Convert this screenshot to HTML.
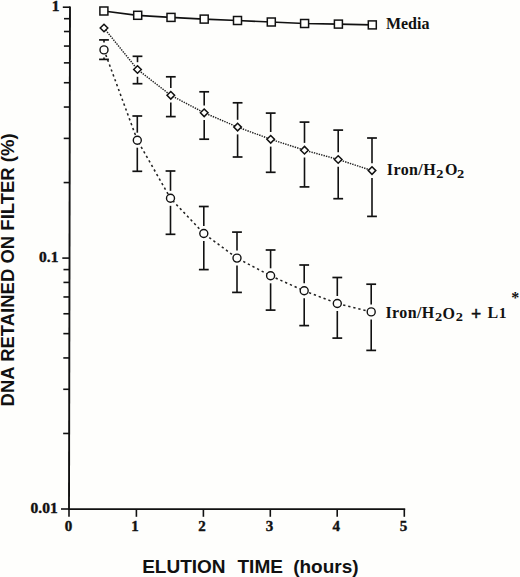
<!DOCTYPE html>
<html><head><meta charset="utf-8"><style>
html,body{margin:0;padding:0;background:#fefefc;}
body{width:520px;height:577px;overflow:hidden;}
svg{display:block;}
</style></head><body>
<svg width="520" height="577" viewBox="0 0 520 577">
<rect width="520" height="577" fill="#fefefc"/>
<line x1="70" y1="6.4" x2="69" y2="509.9" stroke="#111" stroke-width="1.9"/>
<line x1="68.2" y1="509.1" x2="405.2" y2="509.1" stroke="#111" stroke-width="1.8"/>
<line x1="62.80" y1="7.20" x2="70.00" y2="7.20" stroke="#111" stroke-width="1.6"/>
<line x1="63.65" y1="182.57" x2="69.65" y2="182.57" stroke="#111" stroke-width="1.6"/>
<line x1="63.74" y1="138.39" x2="69.74" y2="138.39" stroke="#111" stroke-width="1.6"/>
<line x1="63.80" y1="107.04" x2="69.80" y2="107.04" stroke="#111" stroke-width="1.6"/>
<line x1="63.85" y1="82.73" x2="69.85" y2="82.73" stroke="#111" stroke-width="1.6"/>
<line x1="63.89" y1="62.86" x2="69.89" y2="62.86" stroke="#111" stroke-width="1.6"/>
<line x1="63.92" y1="46.06" x2="69.92" y2="46.06" stroke="#111" stroke-width="1.6"/>
<line x1="63.95" y1="31.51" x2="69.95" y2="31.51" stroke="#111" stroke-width="1.6"/>
<line x1="63.98" y1="18.68" x2="69.98" y2="18.68" stroke="#111" stroke-width="1.6"/>
<line x1="62.30" y1="258.10" x2="69.50" y2="258.10" stroke="#111" stroke-width="1.6"/>
<line x1="63.15" y1="433.47" x2="69.15" y2="433.47" stroke="#111" stroke-width="1.6"/>
<line x1="63.24" y1="389.29" x2="69.24" y2="389.29" stroke="#111" stroke-width="1.6"/>
<line x1="63.30" y1="357.94" x2="69.30" y2="357.94" stroke="#111" stroke-width="1.6"/>
<line x1="63.35" y1="333.63" x2="69.35" y2="333.63" stroke="#111" stroke-width="1.6"/>
<line x1="63.39" y1="313.76" x2="69.39" y2="313.76" stroke="#111" stroke-width="1.6"/>
<line x1="63.42" y1="296.96" x2="69.42" y2="296.96" stroke="#111" stroke-width="1.6"/>
<line x1="63.45" y1="282.41" x2="69.45" y2="282.41" stroke="#111" stroke-width="1.6"/>
<line x1="63.48" y1="269.58" x2="69.48" y2="269.58" stroke="#111" stroke-width="1.6"/>
<line x1="61.00" y1="509.00" x2="69.00" y2="509.00" stroke="#111" stroke-width="1.6"/>
<line x1="69" y1="509" x2="69" y2="516.8" stroke="#111" stroke-width="1.6"/>
<line x1="136.4" y1="509" x2="136.4" y2="516.8" stroke="#111" stroke-width="1.6"/>
<line x1="203.4" y1="509" x2="203.4" y2="516.8" stroke="#111" stroke-width="1.6"/>
<line x1="270.3" y1="509" x2="270.3" y2="516.8" stroke="#111" stroke-width="1.6"/>
<line x1="337.2" y1="509" x2="337.2" y2="516.8" stroke="#111" stroke-width="1.6"/>
<line x1="404.3" y1="509" x2="404.3" y2="516.8" stroke="#111" stroke-width="1.6"/>
<line x1="137.5" y1="56.3" x2="137.5" y2="62.2" stroke="#111" stroke-width="1.6"/><line x1="137.5" y1="76.8" x2="137.5" y2="83.7" stroke="#111" stroke-width="1.6"/><line x1="132.6" y1="56.3" x2="142.4" y2="56.3" stroke="#111" stroke-width="1.7"/><line x1="132.6" y1="83.7" x2="142.4" y2="83.7" stroke="#111" stroke-width="1.7"/>
<line x1="170.8" y1="76.8" x2="170.8" y2="88.0" stroke="#111" stroke-width="1.6"/><line x1="170.8" y1="102.6" x2="170.8" y2="116.6" stroke="#111" stroke-width="1.6"/><line x1="165.9" y1="76.8" x2="175.7" y2="76.8" stroke="#111" stroke-width="1.7"/><line x1="165.9" y1="116.6" x2="175.7" y2="116.6" stroke="#111" stroke-width="1.7"/>
<line x1="204.2" y1="91.8" x2="204.2" y2="105.5" stroke="#111" stroke-width="1.6"/><line x1="204.2" y1="120.1" x2="204.2" y2="139.2" stroke="#111" stroke-width="1.6"/><line x1="199.3" y1="91.8" x2="209.1" y2="91.8" stroke="#111" stroke-width="1.7"/><line x1="199.3" y1="139.2" x2="209.1" y2="139.2" stroke="#111" stroke-width="1.7"/>
<line x1="237.6" y1="102.8" x2="237.6" y2="119.8" stroke="#111" stroke-width="1.6"/><line x1="237.6" y1="134.4" x2="237.6" y2="157.0" stroke="#111" stroke-width="1.6"/><line x1="232.7" y1="102.8" x2="242.5" y2="102.8" stroke="#111" stroke-width="1.7"/><line x1="232.7" y1="157.0" x2="242.5" y2="157.0" stroke="#111" stroke-width="1.7"/>
<line x1="270.7" y1="113.1" x2="270.7" y2="132.0" stroke="#111" stroke-width="1.6"/><line x1="270.7" y1="146.6" x2="270.7" y2="172.3" stroke="#111" stroke-width="1.6"/><line x1="265.8" y1="113.1" x2="275.6" y2="113.1" stroke="#111" stroke-width="1.7"/><line x1="265.8" y1="172.3" x2="275.6" y2="172.3" stroke="#111" stroke-width="1.7"/>
<line x1="304.5" y1="122.1" x2="304.5" y2="142.9" stroke="#111" stroke-width="1.6"/><line x1="304.5" y1="157.5" x2="304.5" y2="186.9" stroke="#111" stroke-width="1.6"/><line x1="299.6" y1="122.1" x2="309.4" y2="122.1" stroke="#111" stroke-width="1.7"/><line x1="299.6" y1="186.9" x2="309.4" y2="186.9" stroke="#111" stroke-width="1.7"/>
<line x1="338.2" y1="130.1" x2="338.2" y2="152.2" stroke="#111" stroke-width="1.6"/><line x1="338.2" y1="166.8" x2="338.2" y2="198.7" stroke="#111" stroke-width="1.6"/><line x1="333.3" y1="130.1" x2="343.1" y2="130.1" stroke="#111" stroke-width="1.7"/><line x1="333.3" y1="198.7" x2="343.1" y2="198.7" stroke="#111" stroke-width="1.7"/>
<line x1="372.0" y1="138.0" x2="372.0" y2="163.3" stroke="#111" stroke-width="1.6"/><line x1="372.0" y1="177.9" x2="372.0" y2="216.4" stroke="#111" stroke-width="1.6"/><line x1="367.1" y1="138.0" x2="376.9" y2="138.0" stroke="#111" stroke-width="1.7"/><line x1="367.1" y1="216.4" x2="376.9" y2="216.4" stroke="#111" stroke-width="1.7"/>
<line x1="104.0" y1="39.9" x2="104.0" y2="42.4" stroke="#111" stroke-width="1.6"/><line x1="104.0" y1="57.4" x2="104.0" y2="59.4" stroke="#111" stroke-width="1.6"/><line x1="99.1" y1="39.9" x2="108.9" y2="39.9" stroke="#111" stroke-width="1.7"/><line x1="99.1" y1="59.4" x2="108.9" y2="59.4" stroke="#111" stroke-width="1.7"/>
<line x1="137.3" y1="116.0" x2="137.3" y2="132.7" stroke="#111" stroke-width="1.6"/><line x1="137.3" y1="147.7" x2="137.3" y2="171.3" stroke="#111" stroke-width="1.6"/><line x1="132.4" y1="116.0" x2="142.2" y2="116.0" stroke="#111" stroke-width="1.7"/><line x1="132.4" y1="171.3" x2="142.2" y2="171.3" stroke="#111" stroke-width="1.7"/>
<line x1="170.5" y1="171.0" x2="170.5" y2="190.8" stroke="#111" stroke-width="1.6"/><line x1="170.5" y1="205.8" x2="170.5" y2="234.3" stroke="#111" stroke-width="1.6"/><line x1="165.6" y1="171.0" x2="175.4" y2="171.0" stroke="#111" stroke-width="1.7"/><line x1="165.6" y1="234.3" x2="175.4" y2="234.3" stroke="#111" stroke-width="1.7"/>
<line x1="203.8" y1="206.5" x2="203.8" y2="226.0" stroke="#111" stroke-width="1.6"/><line x1="203.8" y1="241.0" x2="203.8" y2="269.6" stroke="#111" stroke-width="1.6"/><line x1="198.9" y1="206.5" x2="208.7" y2="206.5" stroke="#111" stroke-width="1.7"/><line x1="198.9" y1="269.6" x2="208.7" y2="269.6" stroke="#111" stroke-width="1.7"/>
<line x1="237.0" y1="232.1" x2="237.0" y2="250.6" stroke="#111" stroke-width="1.6"/><line x1="237.0" y1="265.6" x2="237.0" y2="292.4" stroke="#111" stroke-width="1.6"/><line x1="232.1" y1="232.1" x2="241.9" y2="232.1" stroke="#111" stroke-width="1.7"/><line x1="232.1" y1="292.4" x2="241.9" y2="292.4" stroke="#111" stroke-width="1.7"/>
<line x1="270.6" y1="250.0" x2="270.6" y2="268.3" stroke="#111" stroke-width="1.6"/><line x1="270.6" y1="283.3" x2="270.6" y2="310.1" stroke="#111" stroke-width="1.6"/><line x1="265.7" y1="250.0" x2="275.5" y2="250.0" stroke="#111" stroke-width="1.7"/><line x1="265.7" y1="310.1" x2="275.5" y2="310.1" stroke="#111" stroke-width="1.7"/>
<line x1="304.2" y1="265.0" x2="304.2" y2="283.3" stroke="#111" stroke-width="1.6"/><line x1="304.2" y1="298.3" x2="304.2" y2="325.6" stroke="#111" stroke-width="1.6"/><line x1="299.3" y1="265.0" x2="309.1" y2="265.0" stroke="#111" stroke-width="1.7"/><line x1="299.3" y1="325.6" x2="309.1" y2="325.6" stroke="#111" stroke-width="1.7"/>
<line x1="337.3" y1="277.5" x2="337.3" y2="296.0" stroke="#111" stroke-width="1.6"/><line x1="337.3" y1="311.0" x2="337.3" y2="338.1" stroke="#111" stroke-width="1.6"/><line x1="332.4" y1="277.5" x2="342.2" y2="277.5" stroke="#111" stroke-width="1.7"/><line x1="332.4" y1="338.1" x2="342.2" y2="338.1" stroke="#111" stroke-width="1.7"/>
<line x1="371.2" y1="284.2" x2="371.2" y2="304.4" stroke="#111" stroke-width="1.6"/><line x1="371.2" y1="319.4" x2="371.2" y2="350.4" stroke="#111" stroke-width="1.6"/><line x1="366.3" y1="284.2" x2="376.1" y2="284.2" stroke="#111" stroke-width="1.7"/><line x1="366.3" y1="350.4" x2="376.1" y2="350.4" stroke="#111" stroke-width="1.7"/>
<polyline points="103.6,11.0 137.4,15.3 170.7,17.4 203.9,19.1 237.2,20.5 271.0,22.0 304.3,23.5 338.1,24.1 372.0,24.9" fill="none" stroke="#111" stroke-width="1.7"/>
<polyline points="104,28 137.5,69.5 170.8,95.3 204.2,112.8 237.6,127.1 270.7,139.3 304.5,150.2 338.2,159.5 372,170.6" fill="none" stroke="#222" stroke-width="1.45" stroke-dasharray="1.4 1.1"/>
<polyline points="104,49.9 137.3,140.2 170.5,198.3 203.8,233.5 237,258.1 270.6,275.8 304.2,290.8 337.3,303.5 371.2,311.9" fill="none" stroke="#222" stroke-width="1.55" stroke-dasharray="2.3 2.9"/>
<rect x="99.9" y="7.0" width="8" height="8" fill="#fefefc" stroke="#111" stroke-width="1.5"/>
<rect x="133.7" y="11.3" width="8" height="8" fill="#fefefc" stroke="#111" stroke-width="1.5"/>
<rect x="167.0" y="13.4" width="8" height="8" fill="#fefefc" stroke="#111" stroke-width="1.5"/>
<rect x="200.2" y="15.1" width="8" height="8" fill="#fefefc" stroke="#111" stroke-width="1.5"/>
<rect x="233.5" y="16.5" width="8" height="8" fill="#fefefc" stroke="#111" stroke-width="1.5"/>
<rect x="267.3" y="18.0" width="8" height="8" fill="#fefefc" stroke="#111" stroke-width="1.5"/>
<rect x="300.6" y="19.5" width="8" height="8" fill="#fefefc" stroke="#111" stroke-width="1.5"/>
<rect x="334.4" y="20.1" width="8" height="8" fill="#fefefc" stroke="#111" stroke-width="1.5"/>
<rect x="368.3" y="20.9" width="8" height="8" fill="#fefefc" stroke="#111" stroke-width="1.5"/>
<path d="M104.0 24.2L107.8 28.0L104.0 31.8L100.2 28.0Z" fill="#fefefc" stroke="#111" stroke-width="1.5"/>
<path d="M137.5 65.7L141.3 69.5L137.5 73.3L133.7 69.5Z" fill="#fefefc" stroke="#111" stroke-width="1.5"/>
<path d="M170.8 91.5L174.6 95.3L170.8 99.1L167.0 95.3Z" fill="#fefefc" stroke="#111" stroke-width="1.5"/>
<path d="M204.2 109.0L208.0 112.8L204.2 116.6L200.4 112.8Z" fill="#fefefc" stroke="#111" stroke-width="1.5"/>
<path d="M237.6 123.3L241.4 127.1L237.6 130.9L233.8 127.1Z" fill="#fefefc" stroke="#111" stroke-width="1.5"/>
<path d="M270.7 135.5L274.5 139.3L270.7 143.1L266.9 139.3Z" fill="#fefefc" stroke="#111" stroke-width="1.5"/>
<path d="M304.5 146.4L308.3 150.2L304.5 154.0L300.7 150.2Z" fill="#fefefc" stroke="#111" stroke-width="1.5"/>
<path d="M338.2 155.7L342.0 159.5L338.2 163.3L334.4 159.5Z" fill="#fefefc" stroke="#111" stroke-width="1.5"/>
<path d="M372.0 166.8L375.8 170.6L372.0 174.4L368.2 170.6Z" fill="#fefefc" stroke="#111" stroke-width="1.5"/>
<circle cx="104.0" cy="49.9" r="4.0" fill="#fefefc" stroke="#111" stroke-width="1.4"/>
<circle cx="137.3" cy="140.2" r="4.0" fill="#fefefc" stroke="#111" stroke-width="1.4"/>
<circle cx="170.5" cy="198.3" r="4.0" fill="#fefefc" stroke="#111" stroke-width="1.4"/>
<circle cx="203.8" cy="233.5" r="4.0" fill="#fefefc" stroke="#111" stroke-width="1.4"/>
<circle cx="237.0" cy="258.1" r="4.0" fill="#fefefc" stroke="#111" stroke-width="1.4"/>
<circle cx="270.6" cy="275.8" r="4.0" fill="#fefefc" stroke="#111" stroke-width="1.4"/>
<circle cx="304.2" cy="290.8" r="4.0" fill="#fefefc" stroke="#111" stroke-width="1.4"/>
<circle cx="337.3" cy="303.5" r="4.0" fill="#fefefc" stroke="#111" stroke-width="1.4"/>
<circle cx="371.2" cy="311.9" r="4.0" fill="#fefefc" stroke="#111" stroke-width="1.4"/>
<g fill="#111">
<text x="51.8" y="11.4" font-size="15.5" style='font-family:"Liberation Serif",serif;font-weight:bold;stroke:#111;stroke-width:0.4px;'>1</text>
<text x="39.0" y="261.6" font-size="15.5" style='font-family:"Liberation Serif",serif;font-weight:bold;stroke:#111;stroke-width:0.4px;'>0.1</text>
<text x="30.6" y="512.8" font-size="15.5" style='font-family:"Liberation Serif",serif;font-weight:bold;stroke:#111;stroke-width:0.4px;'>0.01</text>
<text x="68.5" y="531.2" font-size="15" text-anchor="middle" style='font-family:"Liberation Serif",serif;font-weight:bold;stroke:#111;stroke-width:0.4px;'>0</text>
<text x="134.9" y="531.2" font-size="15" text-anchor="middle" style='font-family:"Liberation Serif",serif;font-weight:bold;stroke:#111;stroke-width:0.4px;'>1</text>
<text x="202.1" y="531.2" font-size="15" text-anchor="middle" style='font-family:"Liberation Serif",serif;font-weight:bold;stroke:#111;stroke-width:0.4px;'>2</text>
<text x="269.5" y="531.2" font-size="15" text-anchor="middle" style='font-family:"Liberation Serif",serif;font-weight:bold;stroke:#111;stroke-width:0.4px;'>3</text>
<text x="336.3" y="531.2" font-size="15" text-anchor="middle" style='font-family:"Liberation Serif",serif;font-weight:bold;stroke:#111;stroke-width:0.4px;'>4</text>
<text x="403.4" y="531.2" font-size="15" text-anchor="middle" style='font-family:"Liberation Serif",serif;font-weight:bold;stroke:#111;stroke-width:0.4px;'>5</text>
<text x="385.9" y="29.2" font-size="16" style='font-family:"Liberation Serif",serif;font-weight:bold;'>Media</text>
<text x="386.8" y="174.8" font-size="16" style='font-family:"Liberation Serif",serif;font-weight:bold;letter-spacing:0.4px;'>Iron/H</text>
<text transform="translate(436.3,177.7) scale(1.2,1)" x="0" y="0" font-size="12" style='font-family:"Liberation Serif",serif;font-weight:bold;'>2</text>
<text x="445" y="175.2" font-size="16" style='font-family:"Liberation Serif",serif;font-weight:bold;'>O</text>
<text transform="translate(457,177.7) scale(1.2,1)" x="0" y="0" font-size="12" style='font-family:"Liberation Serif",serif;font-weight:bold;'>2</text>
<text x="385.4" y="318.3" font-size="16" style='font-family:"Liberation Serif",serif;font-weight:bold;letter-spacing:0.4px;'>Iron/H</text>
<text transform="translate(435.1,321.2) scale(1.2,1)" x="0" y="0" font-size="12" style='font-family:"Liberation Serif",serif;font-weight:bold;'>2</text>
<text x="442.6" y="318.6" font-size="16" style='font-family:"Liberation Serif",serif;font-weight:bold;'>O</text>
<text transform="translate(455.7,321.2) scale(1.2,1)" x="0" y="0" font-size="12" style='font-family:"Liberation Serif",serif;font-weight:bold;'>2</text>
<text x="470.9" y="320.2" font-size="18" style='font-family:"Liberation Serif",serif;font-weight:bold;stroke:#111;stroke-width:0.5px;'>+</text>
<text x="487.4" y="318.2" font-size="16" style='font-family:"Liberation Serif",serif;font-weight:bold;'>L</text>
<text x="498.8" y="318.2" font-size="15.5" style='font-family:"Liberation Serif",serif;font-weight:bold;'>1</text>
<text x="511.3" y="302.5" font-size="16" style='font-family:"Liberation Serif",serif;font-weight:bold;'>*</text>
<text x="142.2" y="572.6" font-size="19" style='font-family:"Liberation Sans",sans-serif;font-weight:bold;'>ELUTION</text>
<text x="237.5" y="572.6" font-size="19" style='font-family:"Liberation Sans",sans-serif;font-weight:bold;'>TIME</text>
<text x="293.2" y="572.6" font-size="19" style='font-family:"Liberation Sans",sans-serif;font-weight:bold;'>(hours)</text>
<text transform="translate(14.2,406.4) rotate(-90)" x="0" y="0" font-size="18.5" style='font-family:"Liberation Sans",sans-serif;font-weight:bold;'>DNA RETAINED ON FILTER (%)</text>
</g>
</svg>
</body></html>
